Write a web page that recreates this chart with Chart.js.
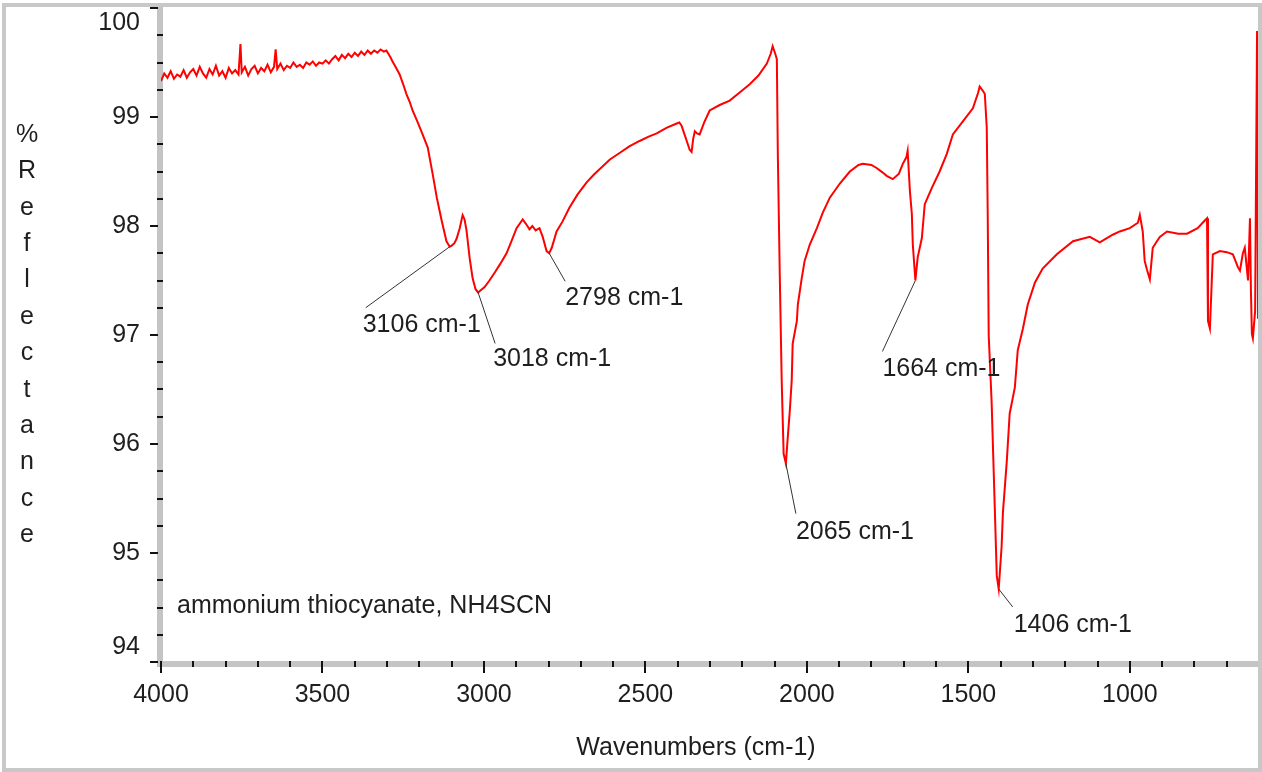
<!DOCTYPE html>
<html>
<head>
<meta charset="utf-8">
<script src="https://cdn.jsdelivr.net/npm/chart.js@4.4.0/dist/chart.umd.min.js"></script>
<style>
  html, body { margin: 0; padding: 0; background: #fff; overflow: hidden; }
  #wrap { position: relative; width: 1262px; height: 772px; overflow: hidden; }
  #myChart { position: absolute; left: 0; top: -33px; }
  #frame { position: absolute; left: 2px; top: 3px; width: 1260px; height: 769px; box-sizing: border-box; border: 4px solid #c8c8c8; pointer-events: none; }
</style>
</head>
<body>
<div id="wrap">
  <canvas id="myChart" width="1262" height="805"></canvas>
  <div id="frame"></div>
</div>
<script>
// spectrum (cm-1, %R)
var wavenumbers = [
  4000, 3990, 3980, 3970, 3960, 3950, 3940, 3930, 3920, 3910, 3900, 3890, 3880, 3870, 3860, 3850,
  3840, 3830, 3820, 3810, 3800, 3790, 3780, 3770, 3760, 3754, 3750, 3740, 3730, 3720, 3710, 3700,
  3690, 3680, 3670, 3660, 3650, 3645, 3640, 3630, 3620, 3610, 3600, 3590, 3580, 3570, 3560, 3550,
  3540, 3530, 3520, 3510, 3500, 3490, 3480, 3470, 3460, 3450, 3440, 3430, 3420, 3410, 3400, 3390,
  3380, 3370, 3360, 3350, 3340, 3330, 3320, 3310, 3302,
  3290, 3283, 3270, 3261, 3250, 3240, 3230, 3221, 3205, 3190, 3174, 3159, 3146, 3131, 3116, 3106,
  3100, 3092, 3085, 3075, 3066, 3060, 3054, 3044, 3035, 3026, 3018, 3010, 2998, 2983, 2965, 2950,
  2930, 2915, 2899, 2880, 2870, 2859, 2850, 2840, 2828, 2818, 2806, 2798, 2790, 2775, 2757, 2735,
  2710, 2682, 2660, 2642, 2610, 2580, 2550, 2518, 2490, 2465, 2435, 2403, 2395, 2388, 2380, 2372,
  2363, 2357, 2352, 2347, 2340, 2332, 2318, 2301, 2270, 2239, 2210, 2177, 2150, 2124, 2112, 2106,
  2098, 2093, 2090, 2084, 2078, 2072, 2065, 2060, 2053, 2047, 2044, 2031, 2028, 2016, 2007, 1991,
  1969, 1951, 1929, 1898, 1867, 1840, 1827, 1800, 1783, 1765, 1753, 1734, 1715, 1703, 1692, 1688,
  1681, 1675, 1672, 1664, 1657, 1644, 1635, 1613, 1589, 1567, 1548, 1517, 1486, 1470, 1465, 1455,
  1449, 1443, 1440, 1437, 1428, 1418, 1412, 1406, 1397, 1393, 1381, 1372, 1356, 1347, 1331, 1316,
  1294, 1270, 1226, 1176, 1124, 1093, 1053, 1031, 1000, 975, 969, 960, 954, 947, 938, 929,
  916, 907, 885, 850, 823, 790, 768, 761, 758, 752, 743, 721, 700, 681, 665, 659,
  650, 644, 634, 628, 625, 622, 619, 612, 606, 603
];
var reflectance = [
  99.33, 99.40, 99.36, 99.42, 99.35, 99.39, 99.37, 99.43, 99.36, 99.41, 99.44, 99.38, 99.46, 99.40, 99.36, 99.44,
  99.39, 99.47, 99.38, 99.42, 99.36, 99.45, 99.40, 99.43, 99.39, 99.67, 99.41, 99.46, 99.38, 99.44, 99.47, 99.40,
  99.45, 99.42, 99.48, 99.41, 99.46, 99.62, 99.44, 99.49, 99.43, 99.47, 99.45, 99.50, 99.46, 99.48, 99.45, 99.50,
  99.48, 99.51, 99.47, 99.50, 99.49, 99.52, 99.49, 99.53, 99.56, 99.52, 99.57, 99.54, 99.58, 99.55, 99.59, 99.56,
  99.60, 99.57, 99.61, 99.58, 99.61, 99.59, 99.62, 99.60, 99.61,
  99.55, 99.51, 99.44, 99.39, 99.30, 99.21, 99.14, 99.06, 98.95, 98.84, 98.72, 98.48, 98.26, 98.05, 97.86, 97.81,
  97.82, 97.84, 97.88, 97.98, 98.10, 98.06, 97.96, 97.70, 97.52, 97.42, 97.39, 97.41, 97.44, 97.50, 97.58, 97.65,
  97.75, 97.86, 97.98, 98.06, 98.02, 97.97, 98.00, 97.96, 97.98, 97.90, 97.77, 97.75, 97.80, 97.95, 98.04, 98.17,
  98.29, 98.40, 98.47, 98.52, 98.61, 98.67, 98.73, 98.78, 98.82, 98.85, 98.90, 98.94, 98.95, 98.92, 98.85, 98.78,
  98.70, 98.68, 98.80, 98.87, 98.85, 98.84, 98.95, 99.06, 99.11, 99.15, 99.22, 99.30, 99.38, 99.49, 99.58, 99.65,
  99.58, 99.53, 98.66, 97.56, 96.58, 95.91, 95.82, 96.03, 96.30, 96.58, 96.92, 97.13, 97.28, 97.52, 97.68, 97.83,
  97.98, 98.12, 98.26, 98.39, 98.50, 98.56, 98.57, 98.56, 98.53, 98.49, 98.46, 98.43, 98.48, 98.57, 98.63, 98.69,
  98.32, 98.11, 97.83, 97.50, 97.71, 97.89, 98.20, 98.35, 98.50, 98.66, 98.84, 98.96, 99.08, 99.22, 99.28, 99.24,
  99.21, 98.90, 98.10, 97.00, 96.39, 95.40, 94.79, 94.67, 95.06, 95.37, 95.84, 96.28, 96.52, 96.86, 97.06, 97.28,
  97.48, 97.61, 97.74, 97.86, 97.90, 97.85, 97.92, 97.95, 97.98, 98.03, 98.10, 97.95, 97.68, 97.60, 97.51, 97.80,
  97.86, 97.90, 97.95, 97.93, 97.93, 97.98, 98.05, 98.07, 97.13, 97.06, 97.74, 97.77, 97.76, 97.74, 97.62, 97.59,
  97.75, 97.80, 97.50, 98.07, 97.40, 97.01, 96.97, 97.22, 99.79, 97.15
];
var peakWn = [3106, 3018, 2798, 2065, 1664, 1406];
var peakVal = [97.81, 97.39, 97.75, 95.82, 97.50, 94.67];
var xTicks = [4000, 3500, 3000, 2500, 2000, 1500, 1000];
var yTicks = [94, 95, 96, 97, 98, 99, 100];
var sampleName = "ammonium thiocyanate, NH4SCN";
var yTitle = "%Reflectance";
var xTitle = "Wavenumbers (cm-1)";

// callout leader end / text start, pixels relative to the peak
var calloutOffsets = [
  [-84, 61, -87, 78],
  [17, 51, 15, 67],
  [16, 28, 16, 45],
  [10, 50, 10, 68],
  [-33, 71, -33, 89],
  [14, 18, 15, 36]
];

var FONT = "25px 'Liberation Sans', Arial, sans-serif";
var TEXT = "#1e1e1e";
var TOP = 33; // canvas is shifted up by this much

var points = wavenumbers.map(function(w, i) { return { x: w, y: reflectance[i] }; });

var axisDecor = {
  id: "axisDecor",
  beforeDatasetsDraw: function(chart) {
    var c = chart.ctx, a = chart.chartArea;
    var xs = chart.scales.x, ys = chart.scales.y;
    c.save();
    c.fillStyle = "#c4c4c4";
    c.fillRect(a.left - 4, a.top - 2, 6, a.bottom - a.top + 7);
    c.fillRect(a.left - 4, a.bottom - 1, a.right - a.left + 4, 6);
    c.fillStyle = "#111";
    // y ticks
    for (var v = 94; v <= 100.001; v += 0.25) {
      var py = Math.round(ys.getPixelForValue(v));
      if (Math.abs(v - Math.round(v)) < 0.01) {
        c.fillRect(a.left - 11, py - 1, 8, 2);
      } else {
        c.fillRect(a.left - 4, py - 1, 6, 2);
      }
    }
    // x ticks
    for (var w = 700; w <= 4000; w += 100) {
      var px = Math.round(xs.getPixelForValue(w));
      if (w % 500 === 0) {
        c.fillRect(px - 1, a.bottom - 1, 2, 12);
      } else {
        c.fillRect(px - 1, a.bottom - 1, 2, 6);
      }
    }
    c.restore();
  },
  afterDraw: function(chart) {
    var c = chart.ctx;
    var xs = chart.scales.x, ys = chart.scales.y;
    c.save();
    c.font = FONT;
    c.fillStyle = TEXT;
    c.textBaseline = "middle";
    // peak callouts
    c.strokeStyle = "#333";
    c.lineWidth = 1;
    peakWn.forEach(function(w, i) {
      var x0 = xs.getPixelForValue(w), y0 = ys.getPixelForValue(peakVal[i]);
      var o = calloutOffsets[i];
      c.beginPath();
      c.moveTo(x0, y0);
      c.lineTo(x0 + o[0], y0 + o[1]);
      c.stroke();
      c.textAlign = "left";
      c.fillText(w + " cm-1", x0 + o[2], y0 + o[3]);
    });
    // sample name
    c.textAlign = "left";
    c.fillText(sampleName, 177, 606 + TOP);
    // stacked y title
    c.textAlign = "center";
    for (var k = 0; k < yTitle.length; k++) {
      c.fillText(yTitle[k], 27, 135 + TOP + k * 36.4);
    }
    // x title
    c.fillText(xTitle, 696, 748 + TOP);
    c.restore();
  }
};

var ctx = document.getElementById("myChart");
var myChart = new Chart(ctx, {
  type: "line",
  data: {
    datasets: [
      {
        data: points,
        borderColor: "#ff0000",
        borderWidth: 2,
        pointRadius: 0,
        tension: 0,
        fill: false
      }
    ]
  },
  options: {
    responsive: false,
    animation: false,
    layout: { padding: { top: 40, right: 3, left: 0, bottom: 0 } },
    plugins: { legend: { display: false }, tooltip: { enabled: false } },
    scales: {
      x: {
        type: "linear",
        reverse: true,
        min: 600,
        max: 4000,
        afterBuildTicks: function(scale) {
          scale.ticks = xTicks.map(function(v) { return { value: v }; });
        },
        afterFit: function(scale) { scale.height = 110; },
        grid: { display: false, drawTicks: true, tickLength: 10 },
        border: { display: false },
        ticks: {
          maxRotation: 0,
          autoSkip: false,
          padding: 8,
          color: TEXT,
          font: { family: "'Liberation Sans', Arial, sans-serif", size: 25 },
          callback: function(v) { return String(v); }
        }
      },
      y: {
        min: 94,
        max: 100,
        afterBuildTicks: function(scale) {
          scale.ticks = yTicks.map(function(v) { return { value: v }; });
        },
        afterFit: function(scale) { scale.width = 161; },
        grid: { display: false, drawTicks: true, tickLength: 10 },
        border: { display: false },
        ticks: {
          padding: 11,
          color: TEXT,
          font: { family: "'Liberation Sans', Arial, sans-serif", size: 25 },
          callback: function(v) {
            if (v === 100) return ["", "100"];
            if (v === 94) return ["94", ""];
            return String(v);
          }
        }
      }
    }
  },
  plugins: [axisDecor]
});
</script>
</body>
</html>
